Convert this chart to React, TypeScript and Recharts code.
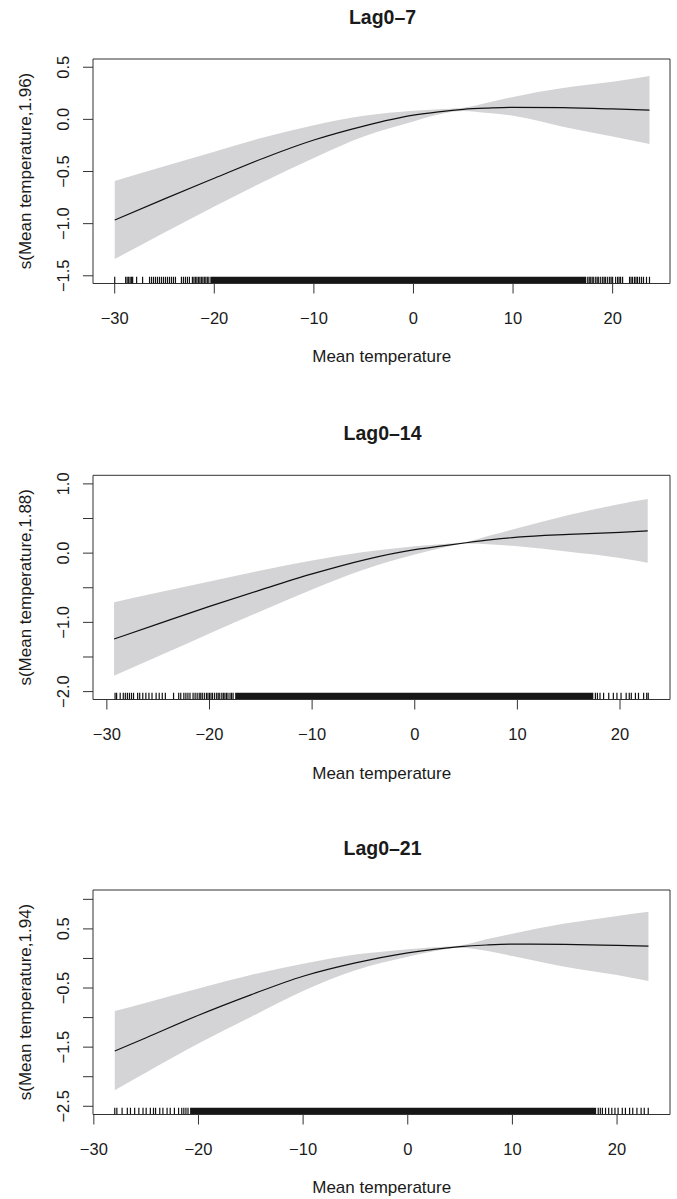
import React from 'react';
import { ComposedChart, XAxis, YAxis, Area, Line, Scatter, ReferenceArea } from 'recharts';

const FONT = '"Liberation Sans", Arial, Helvetica, sans-serif';
const TEXT = '#1a1a1a';
const BAND = '#d4d4d6';

// shared x-axis ticks
const xTicks = [-30, -20, -10, 0, 10, 20];
const xTickLabels = ['−30', '−20', '−10', '0', '10', '20'];
const xAxisTitle = 'Mean temperature';

// ---------- Panel 1: Lag0–7 ----------
const lag7Title = 'Lag0–7';
const lag7YTitle = 's(Mean temperature,1.96)';
const lag7Temp = [-30, -25, -20, -15, -10, -5, 0, 2.5, 5, 7.5, 10, 15, 20, 23.7];
const lag7Fit = [-0.965, -0.762, -0.565, -0.37, -0.198, -0.064, 0.04, 0.072, 0.096, 0.108, 0.115, 0.112, 0.1, 0.088];
const lag7Upper = [-0.59, -0.45, -0.31, -0.172, -0.056, 0.035, 0.083, 0.098, 0.112, 0.162, 0.215, 0.3, 0.36, 0.415];
const lag7Lower = [-1.34, -1.085, -0.835, -0.595, -0.37, -0.165, -0.02, 0.046, 0.08, 0.06, 0.035, -0.07, -0.165, -0.236];
const lag7RugTails = [
  -30.0, -28.9, -28.75, -28.6, -28.45, -28.3, -28.2, -27.8, -27.2,
  -26.5, -26.3, -26.1, -25.9, -25.7, -25.5, -25.3, -25.1, -24.9, -24.7, -24.5, -24.3, -24.1, -23.9,
  -23.3, -23.1, -22.9, -22.7, -22.5, -22.2, -22.05, -21.9, -21.75, -21.6, -21.45, -21.3, -21.15, -21.0, -20.85, -20.7, -20.55,
  17.5, 17.65, 17.8, 17.95, 18.1, 18.3, 18.45, 18.6, 18.8, 19.0, 19.15, 19.3, 19.5, 19.7, 19.85, 20.0, 20.3, 20.5, 20.65, 20.8, 21.0,
  21.7, 21.85, 22.0, 22.2, 22.35, 22.5, 22.7, 22.9, 23.1, 23.4, 23.7,
];
const lag7RugDense = [-20.4, 17.35];
const lag7XDomain = [-32.18, 25.76];
const lag7YDomain = [-1.574, 0.579];
const lag7YTicks = [-1.5, -1.0, -0.5, 0, 0.5];
const lag7YLabels = ['−1.5', '−1.0', '−0.5', '0.0', '0.5'];

// ---------- Panel 2: Lag0–14 ----------
const lag14Title = 'Lag0–14';
const lag14YTitle = 's(Mean temperature,1.88)';
const lag14Temp = [-29.3, -25, -20, -15, -10, -5, 0, 2.5, 5, 7.5, 10, 15, 20, 22.7];
const lag14Fit = [-1.24, -1.022, -0.77, -0.53, -0.3, -0.1, 0.05, 0.1, 0.15, 0.195, 0.23, 0.27, 0.3, 0.32];
const lag14Upper = [-0.71, -0.57, -0.41, -0.25, -0.105, 0.015, 0.1, 0.13, 0.16, 0.26, 0.36, 0.55, 0.71, 0.78];
const lag14Lower = [-1.77, -1.49, -1.16, -0.84, -0.525, -0.24, -0.02, 0.07, 0.14, 0.125, 0.1, 0.02, -0.07, -0.14];
const lag14RugTails = [
  -29.2, -29.05, -28.7, -28.4, -28.2, -28.0, -27.8, -27.6, -27.4, -27.0, -26.8,
  -26.5, -26.2, -25.9, -25.6, -25.2, -24.9, -24.6, -24.3, -23.5,
  -23.0, -22.8, -22.5, -22.3, -22.1, -21.9, -21.6, -21.4, -21.2, -21.0, -20.85, -20.7, -20.5, -20.3, -20.15,
  -20.0, -19.85, -19.7, -19.5, -19.3, -19.15, -19.0, -18.8, -18.65, -18.5, -18.35, -18.2, -18.0, -17.85, -17.7,
  17.6, 17.8, 18.05, 18.4, 18.9, 19.35, 19.7, 20.1, 20.6, 20.9, 21.1, 21.5, 21.8, 22.3, 22.6, 22.75,
];
const lag14RugDense = [-17.5, 17.4];
const lag14XDomain = [-31.35, 24.87];
const lag14YDomain = [-2.114, 1.124];
const lag14YTicks = [-2.0, -1.5, -1.0, -0.5, 0, 0.5, 1.0];
const lag14YLabels = ['−2.0', '', '−1.0', '', '0.0', '', '1.0'];

// ---------- Panel 3: Lag0–21 ----------
const lag21Title = 'Lag0–21';
const lag21YTitle = 's(Mean temperature,1.94)';
const lag21Temp = [-28, -25, -20, -15, -10, -5, 0, 2.5, 5, 7.5, 10, 15, 20, 23];
const lag21Fit = [-1.565, -1.34, -0.96, -0.615, -0.3, -0.075, 0.096, 0.155, 0.2, 0.228, 0.243, 0.237, 0.22, 0.21];
const lag21Upper = [-0.89, -0.75, -0.51, -0.28, -0.09, 0.065, 0.158, 0.19, 0.22, 0.325, 0.42, 0.59, 0.72, 0.79];
const lag21Lower = [-2.23, -1.93, -1.44, -0.99, -0.55, -0.2, 0.03, 0.12, 0.18, 0.13, 0.04, -0.14, -0.28, -0.38];
const lag21RugTails = [
  -28.0, -27.8, -27.3, -26.8, -26.5, -26.1, -25.7, -25.3, -25.0, -24.6, -24.3, -24.1,
  -23.7, -23.4, -23.0, -22.7, -22.3, -21.9, -21.6, -21.4, -21.2, -21.0,
  18.2, 18.4, 18.6, 18.9, 19.2, 19.5, 19.8, 20.1, 20.5, 20.8, 21.2, 21.5, 21.9, 22.3, 22.6, 22.98,
];
const lag21RugDense = [-20.8, 18.0];
const lag21XDomain = [-30.08, 25.06];
const lag21YDomain = [-2.639, 1.158];
const lag21YTicks = [-2.5, -2.0, -1.5, -1.0, -0.5, 0, 0.5, 1.0];
const lag21YLabels = ['−2.5', '', '−1.5', '', '−0.5', '', '0.5', ''];

type PanelDef = {
  top: number;
  marginTop: number;
  title: string;
  yTitle: string;
  temp: number[];
  fit: number[];
  upper: number[];
  lower: number[];
  rugTails: number[];
  rugDense: number[];
  xDomain: number[];
  yDomain: number[];
  yTicks: number[];
  yLabels: string[];
};

const panels: PanelDef[] = [
  {
    top: 0, marginTop: 59, title: lag7Title, yTitle: lag7YTitle,
    temp: lag7Temp, fit: lag7Fit, upper: lag7Upper, lower: lag7Lower,
    rugTails: lag7RugTails, rugDense: lag7RugDense,
    xDomain: lag7XDomain, yDomain: lag7YDomain, yTicks: lag7YTicks, yLabels: lag7YLabels,
  },
  {
    top: 416, marginTop: 59.3, title: lag14Title, yTitle: lag14YTitle,
    temp: lag14Temp, fit: lag14Fit, upper: lag14Upper, lower: lag14Lower,
    rugTails: lag14RugTails, rugDense: lag14RugDense,
    xDomain: lag14XDomain, yDomain: lag14YDomain, yTicks: lag14YTicks, yLabels: lag14YLabels,
  },
  {
    top: 831, marginTop: 59, title: lag21Title, yTitle: lag21YTitle,
    temp: lag21Temp, fit: lag21Fit, upper: lag21Upper, lower: lag21Lower,
    rugTails: lag21RugTails, rugDense: lag21RugDense,
    xDomain: lag21XDomain, yDomain: lag21YDomain, yTicks: lag21YTicks, yLabels: lag21YLabels,
  },
];

const CHART_W = 677;
const CHART_H = 400;
const X_AXIS_H = 116.5;
const Y_AXIS_W = 93;
const RUG_PX = 6.7;

const RugTick = (props: any) => {
  const { cx, cy } = props;
  if (cx == null || cy == null) return <g />;
  return <line x1={cx} x2={cx} y1={cy} y2={cy - RUG_PX} stroke="#111" strokeWidth={1.2} />;
};

const renderXTick = (props: any) => {
  const { x, y, payload } = props;
  const i = xTicks.indexOf(payload.value);
  return (
    <text x={x} y={y} dy="0.71em" textAnchor="middle" fontFamily={FONT} fontSize={16.5} fill={TEXT}>
      {i >= 0 ? xTickLabels[i] : ''}
    </text>
  );
};

const makeYTick = (ticks: number[], labels: string[]) => (props: any) => {
  const { x, y, payload } = props;
  const i = ticks.indexOf(payload.value);
  const label = i >= 0 ? labels[i] : '';
  if (!label) return <g />;
  return (
    <text
      x={x}
      y={y}
      transform={`rotate(-90, ${x}, ${y})`}
      textAnchor="middle"
      fontFamily={FONT}
      fontSize={16.5}
      fill={TEXT}
    >
      {label}
    </text>
  );
};

function Panel({ p }: { p: PanelDef }) {
  const rows = p.temp.map((t, i) => ({ x: t, fit: p.fit[i], band: [p.lower[i], p.upper[i]] }));
  const rugRows = p.rugTails.map((t) => ({ x: t, y: p.yDomain[0] }));
  const rugH = (p.yDomain[1] - p.yDomain[0]) * 0.03;
  return (
    <div style={{ position: 'absolute', left: 0, top: p.top, width: CHART_W, height: CHART_H }}>
      <ComposedChart
        width={CHART_W}
        height={CHART_H}
        data={rows}
        margin={{ top: p.marginTop, right: 7, bottom: 0, left: 0 }}
      >
        <XAxis
          type="number"
          dataKey="x"
          domain={p.xDomain}
          ticks={xTicks}
          allowDataOverflow
          interval={0}
          height={X_AXIS_H}
          axisLine={false}
          tickSize={10}
          tickMargin={18.5}
          stroke="#333"
          tick={renderXTick}
        />
        <YAxis
          type="number"
          domain={p.yDomain}
          ticks={p.yTicks}
          allowDataOverflow
          interval={0}
          width={Y_AXIS_W}
          axisLine={false}
          tickSize={10}
          tickMargin={14}
          stroke="#333"
          tick={makeYTick(p.yTicks, p.yLabels)}
        />
        <Area
          type="monotone"
          dataKey="band"
          stroke="none"
          fill={BAND}
          fillOpacity={1}
          isAnimationActive={false}
          activeDot={false}
        />
        <Line
          type="monotone"
          dataKey="fit"
          stroke="#111"
          strokeWidth={1.2}
          dot={false}
          activeDot={false}
          isAnimationActive={false}
        />
        <ReferenceArea
          x1={p.rugDense[0]}
          x2={p.rugDense[1]}
          y1={p.yDomain[0]}
          y2={p.yDomain[0] + rugH}
          fill="#161616"
          fillOpacity={1}
          stroke="none"
          ifOverflow="visible"
        />
        <Scatter data={rugRows} dataKey="y" shape={RugTick} isAnimationActive={false} />
        <ReferenceArea
          x1={p.xDomain[0]}
          x2={p.xDomain[1]}
          y1={p.yDomain[0]}
          y2={p.yDomain[1]}
          fill="none"
          fillOpacity={0}
          stroke="#333"
          strokeWidth={1}
          ifOverflow="visible"
        />
      </ComposedChart>
    </div>
  );
}

export default function App() {
  return (
    <div
      style={{
        position: 'absolute',
        left: 0,
        top: 0,
        width: 677,
        height: 1199,
        overflow: 'hidden',
        background: '#fff',
      }}
    >
      {panels.map((p, i) => (
        <Panel key={i} p={p} />
      ))}
      <svg
        width={677}
        height={1199}
        style={{ position: 'absolute', left: 0, top: 0, pointerEvents: 'none' }}
      >
        {panels.map((p, i) => {
          const oy = p.top + (p.marginTop - 59);
          const yc = 171 + oy;
          return (
            <g key={i} fontFamily={FONT} fill={TEXT}>
              <text x={382.5} y={24 + oy} textAnchor="middle" fontWeight="bold" fontSize={19.5}>
                {p.title}
              </text>
              <text x={381.7} y={362.3 + oy} textAnchor="middle" fontSize={17}>
                {xAxisTitle}
              </text>
              <text x={31} y={yc} transform={`rotate(-90, 31, ${yc})`} textAnchor="middle" fontSize={17}>
                {p.yTitle}
              </text>
            </g>
          );
        })}
      </svg>
    </div>
  );
}
